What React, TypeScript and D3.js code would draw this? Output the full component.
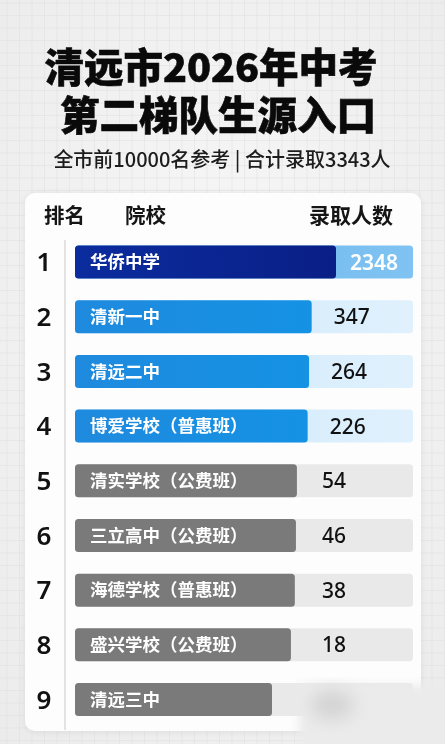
import React from 'react';
import * as d3 from 'd3';

const ranks = [1, 2, 3, 4, 5, 6, 7, 8, 9];
const schools = [
  '华侨中学',
  '清新一中',
  '清远二中',
  '博爱学校（普惠班）',
  '清实学校（公费班）',
  '三立高中（公费班）',
  '海德学校（普惠班）',
  '盛兴学校（公费班）',
  '清远三中',
];
const admitted: (number | null)[] = [2348, 347, 264, 226, 54, 46, 38, 18, null];
const tiers = ['top', 'blue', 'blue', 'blue', 'gray', 'gray', 'gray', 'gray', 'gray'];
const titleLines = ['清远市2026年中考', '第二梯队生源入口'];
const subtitle = '全市前10000名参考 | 合计录取3343人';
const headers = ['排名', '院校', '录取人数'];

const W = 445;
const H = 744;
const FONT = '"Noto Sans CJK SC", "Noto Sans", sans-serif';

export default function App() {
  const y = d3.scalePoint<number>().domain(ranks).range([262, 699.5]);
  const trackX0 = 75;
  const trackX1 = 413;
  const barH = 33;
  const len = d3
    .scalePow()
    .exponent(0.25)
    .domain([0, d3.max(admitted, (d) => d ?? 0) as number])
    .range([197, 261]);

  const barFill: Record<string, string> = {
    top: 'url(#gTop)',
    blue: 'url(#gBlue)',
    gray: '#7a7a7a',
  };
  const trackFill: Record<string, string> = {
    top: 'url(#gTopTrack)',
    blue: 'url(#gBlueTrack)',
    gray: '#e9e9e9',
  };

  const gridX = d3.range(7, W, 12.5);
  const gridY = d3.range(3, H, 12.5);

  return (
    <svg
      width={W}
      height={H}
      viewBox={`0 0 ${W} ${H}`}
      style={{ position: 'fixed', left: 0, top: 0, display: 'block' }}
      fontFamily={FONT}
    >
      <defs>
        <radialGradient id="bg" cx="0.5" cy="0.45" r="0.75">
          <stop offset="0" stopColor="#f8f8f8" />
          <stop offset="1" stopColor="#ebebeb" />
        </radialGradient>
        <linearGradient id="gTop" x1="0" x2="1" y1="0" y2="0">
          <stop offset="0" stopColor="#0b2c9e" />
          <stop offset="1" stopColor="#0a1f86" />
        </linearGradient>
        <linearGradient id="gTopTrack" x1="0" x2="1" y1="0" y2="0">
          <stop offset="0" stopColor="#64b2ec" />
          <stop offset="1" stopColor="#80c3f2" />
        </linearGradient>
        <linearGradient id="gBlue" x1="0" x2="1" y1="0" y2="0">
          <stop offset="0" stopColor="#1f8ade" />
          <stop offset="1" stopColor="#1592e4" />
        </linearGradient>
        <linearGradient id="gBlueTrack" x1="0" x2="1" y1="0" y2="0">
          <stop offset="0" stopColor="#c8e5fa" />
          <stop offset="1" stopColor="#e0f1fd" />
        </linearGradient>
        <filter id="shadow" x="-10%" y="-10%" width="120%" height="120%">
          <feDropShadow dx="0" dy="1" stdDeviation="3" floodColor="#000" floodOpacity="0.08" />
        </filter>
        <filter id="blur" x="-20%" y="-20%" width="140%" height="140%">
          <feGaussianBlur stdDeviation="5" />
        </filter>
        <filter id="blur2" x="-50%" y="-50%" width="200%" height="200%">
          <feGaussianBlur stdDeviation="9" />
        </filter>
      </defs>

      {/* background */}
      <rect x={0} y={0} width={W} height={H} fill="url(#bg)" />
      <g stroke="#dedede" strokeWidth={0.8} opacity={0.65}>
        {gridX.map((gx) => (
          <line key={'gx' + gx} x1={gx} x2={gx} y1={0} y2={H} />
        ))}
        {gridY.map((gy) => (
          <line key={'gy' + gy} x1={0} x2={W} y1={gy} y2={gy} />
        ))}
      </g>

      {/* title (two lines in one text element) */}
      <text
        textAnchor="middle"
        fontSize={39.5}
        fontWeight={900}
        fill="#0a0a0a"
        stroke="#0a0a0a"
        strokeWidth={0.6}
      >
        <tspan x={211} y={82}>
          {titleLines[0]}
        </tspan>
        <tspan x={218} y={130}>
          {titleLines[1]}
        </tspan>
      </text>
      <text x={222} y={167} textAnchor="middle" fontSize={20} fontWeight={500} fill="#1c1c1c">
        {subtitle}
      </text>

      {/* card */}
      <rect x={25} y={193} width={396} height={538} rx={10} fill="#fdfdfd" filter="url(#shadow)" />

      {/* headers */}
      <text x={44} y={223} fontSize={20.5} fontWeight={700} fill="#151515">
        {headers[0]}
      </text>
      <text x={125} y={223} fontSize={20.5} fontWeight={700} fill="#151515">
        {headers[1]}
      </text>
      <text x={393} y={223} textAnchor="end" fontSize={21} fontWeight={700} fill="#151515">
        {headers[2]}
      </text>

      {/* divider */}
      <line x1={65} x2={65} y1={240} y2={730} stroke="#c9c9c9" strokeWidth={1} />

      {/* rows */}
      {ranks.map((r, i) => {
        const cy = y(r) as number;
        const v = admitted[i];
        const tier = tiers[i];
        const barEnd = trackX0 + len(v ?? 0);
        const isTop = tier === 'top';
        return (
          <g key={r}>
            <text
              x={44}
              y={cy}
              dy="0.36em"
              textAnchor="middle"
              fontSize={26}
              fontWeight={600}
              fill="#111"
              fontFamily='"Noto Sans", "Open Sans", sans-serif'
            >
              {r}
            </text>
            <rect
              x={trackX0}
              y={cy - barH / 2}
              width={trackX1 - trackX0}
              height={barH}
              rx={3.5}
              fill={trackFill[tier]}
            />
            <rect
              x={trackX0}
              y={cy - barH / 2}
              width={barEnd - trackX0}
              height={barH}
              rx={3.5}
              fill={barFill[tier]}
            />
            <text x={90} y={cy} dy="0.36em" fontSize={17.5} fontWeight={600} fill="#ffffff">
              {schools[i]}
            </text>
            {v !== null &&
              (isTop ? (
                <text
                  x={398}
                  y={cy}
                  dy="0.36em"
                  textAnchor="end"
                  fontSize={21}
                  fontWeight={600}
                  fill="#ffffff"
                  fontFamily='"Noto Sans", "Open Sans", sans-serif'
                >
                  {v}
                </text>
              ) : (
                <text
                  x={Math.max(barEnd + 22, 322)}
                  y={cy}
                  dy="0.36em"
                  fontSize={21}
                  fontWeight={500}
                  fill="#111"
                  fontFamily='"Noto Sans", "Open Sans", sans-serif'
                >
                  {v}
                </text>
              ))}
          </g>
        );
      })}

      {/* faded bottom-right corner of the card */}
      <rect x={299} y={685} width={160} height={70} fill="#ebebeb" filter="url(#blur)" />
      <ellipse cx={332} cy={705} rx={22} ry={14} fill="#d2d2d2" filter="url(#blur2)" />
    </svg>
  );
}
